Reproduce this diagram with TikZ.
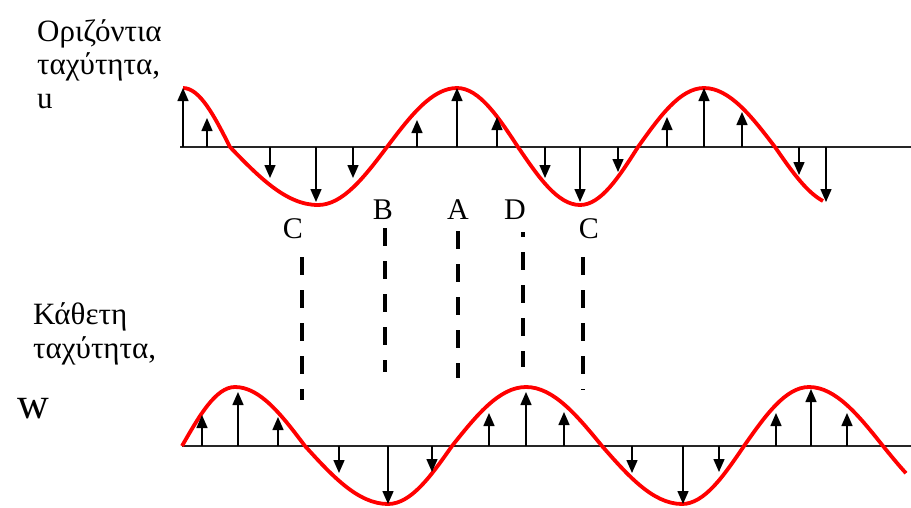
\documentclass[tikz,border=0pt]{standalone}
\usepackage{fontspec}
\setmainfont{Liberation Serif}
\usetikzlibrary{arrows.meta}
\begin{document}
\begin{tikzpicture}[x=1pt,y=-1pt,
  wave/.style={red,line width=3.8pt},
  axis/.style={black!85,line width=1.8pt},
  vec/.style={line width=1.5pt,-{Triangle[width=11pt,length=13pt]}},
  guide/.style={line width=4pt,dash pattern=on 18pt off 15pt},
  lbl/.style={inner sep=0pt,font=\fontsize{30}{33}\selectfont}]
\useasboundingbox (0,0) rectangle (911,507);
\node[inner sep=0pt,align=left,anchor=base west,font=\fontsize{31}{33.5}\selectfont] (uname) at (37,108) {Οριζόντια\\ταχύτητα,\\u};
\node[inner sep=0pt,align=left,anchor=base west,font=\fontsize{31}{34}\selectfont] (wname) at (33,358) {Κάθετη\\ταχύτητα,};
\node[inner sep=0pt,anchor=base west,font=\fontsize{44}{44}\selectfont] (w) at (17,418) {w};
\node[lbl] (c1) at (293,229) {C};
\node[lbl] (b) at (383,210) {B};
\node[lbl] (a) at (458,210) {A};
\node[lbl] (d) at (515,210) {D};
\node[lbl] (c2) at (589,229) {C};
\coordinate (ua) at (180,147);
\coordinate (ub) at (911,147);
\coordinate (wa) at (182,446);
\coordinate (wb) at (911,446);
\draw[axis] (ua) -- (ub);
\draw[axis] (wa) -- (wb);
\draw[wave] (183,88) cos (230,147) sin (318,205) cos (387,147) sin (457,88) cos (518,147) sin (580,205) cos (638,147) sin (704,88) cos (775,147)
  -- plot[domain=775:823,samples=20] (\x,{147+58*sin(90*(\x-775)/63)});
\draw[wave] (182,446) sin (235,387) cos (305,446) sin (388,504) cos (452,446) sin (526,387) cos (602,446) sin (682,504) cos (744,446) sin (809,387) cos (883,446)
  -- plot[domain=883:906,samples=10] (\x,{446+58*sin(90*(\x-883)/74)});
\foreach \x/\y in {183/88,207/118,270/178,316/202,353/178,417/120,457/88,497/117,545/178,580/202,618/172,667/117,704/88,742/112,799/175,826/202}
  \draw[vec] (\x,147) -- (\x,\y);
\foreach \x/\y in {202/415,238/392,278/417,339/473,388/504,432/472,489/413,526/392,564/412,632/473,683/504,719/472,776/413,811/389,847/413}
  \draw[vec] (\x,446) -- (\x,\y);
\coordinate (c1t) at (302,257);
\coordinate (c1b) at (302,400);
\coordinate (bt) at (385,228);
\coordinate (bb) at (385,372);
\coordinate (at) at (458,231);
\coordinate (ab) at (458,378);
\coordinate (dt) at (523,232);
\coordinate (db) at (523,367);
\coordinate (c2t) at (583,257);
\coordinate (c2b) at (583,390);
\draw[guide] (c1t) -- (c1b);
\draw[guide] (bt) -- (bb);
\draw[guide] (at) -- (ab);
\draw[guide,dash phase=13pt] (dt) -- (db);
\draw[guide] (c2t) -- (c2b);
\end{tikzpicture}
\end{document}
